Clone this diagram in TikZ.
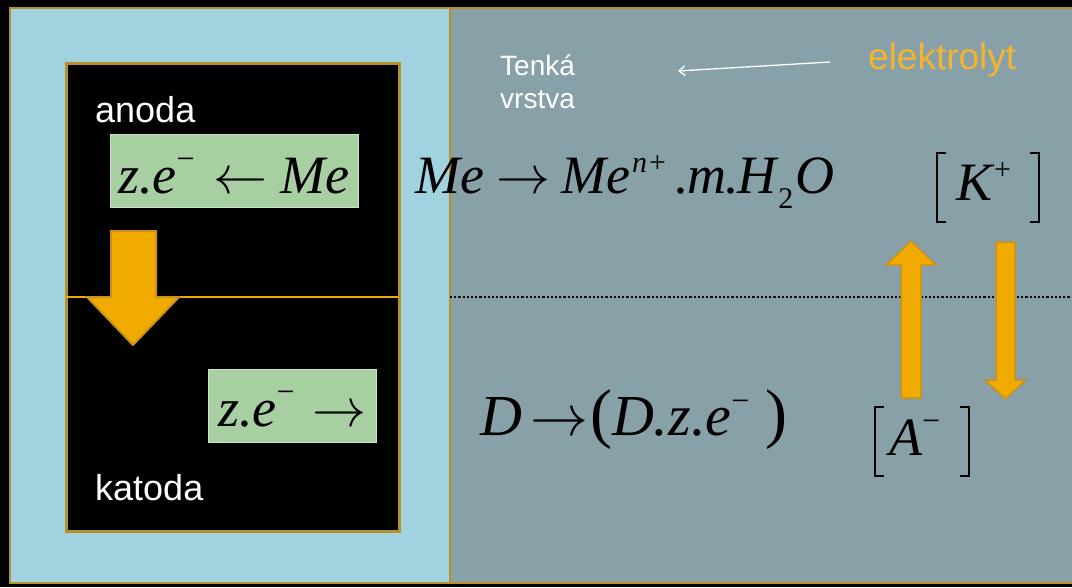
\documentclass[tikz,border=0pt]{standalone}
\usepackage{mathptmx}
\usepackage[no-math]{fontspec}
\setsansfont{Liberation Sans}
\newfontfamily\tim{Liberation Serif}
\usetikzlibrary{arrows.meta}
\definecolor{lblue}{HTML}{A0D2DF}
\definecolor{gpanel}{HTML}{88A0A7}
\definecolor{gbox}{HTML}{A7CFA1}
\definecolor{gold}{HTML}{F0AA00}
\definecolor{goldedge}{HTML}{C8921C}
\definecolor{frame}{HTML}{B8902A}
\definecolor{eltext}{HTML}{F2B530}
\newcommand{\supm}{\raisebox{24pt}{\fontsize{32}{32}\selectfont\upshape −}}
\newcommand{\supt}[1]{\raisebox{21pt}{\fontsize{30}{30}\selectfont #1}}
\newcommand{\subt}[1]{\raisebox{-15pt}{\fontsize{30}{30}\selectfont\upshape #1}}
\newcommand{\bigparen}[1]{{\fontsize{66}{66}\selectfont\upshape #1}}
\tikzset{
  panel/.style={draw=frame, line width=2.5pt},
  eqbox/.style={fill=gbox, draw=gbox!60!white, line width=1pt},
  bigarrow/.style={fill=gold, draw=goldedge, line width=2pt, line join=miter},
  label/.style={text=white, font=\sffamily\fontsize{36}{40}\selectfont, anchor=base west, inner sep=0pt},
  eq/.style={font=\tim\itshape\fontsize{54}{60}\selectfont, inner sep=0pt, anchor=base west},
  brack/.style={draw=black, line width=2.4pt, line cap=butt},
}
\begin{document}
\begin{tikzpicture}[x=1pt,y=-1pt]
\useasboundingbox (0,0) rectangle (1072,587);
\fill[black] (0,0) rectangle (1072,587);
% panels
\fill[lblue] (10,8) rectangle (450,583);
\fill[gpanel] (450,8) rectangle (1072,583);
\draw[panel] (10,8) rectangle (450,583);
\draw[panel] (450,8) -- (1074,8);
\draw[panel] (450,583) -- (1074,583);
% electrode box
\node[fill=black, draw=frame, line width=3pt, minimum width=333pt, minimum height=468pt, inner sep=0pt, anchor=north west] (electrode) at (65,62) {};
\draw[draw=gold, line width=2.5pt] (65,297) coordinate (sepL) -- (398,297) coordinate (sepR);
\draw[dotted, line width=2.2pt, black] (450,297) coordinate (dotL) -- (1072,297) coordinate (dotR);
% labels
\node[label] (anoda) at (95,122) {anoda};
\node[label] (katoda) at (95,500) {katoda};
% green boxes
\node[eqbox, minimum width=248pt, minimum height=73pt, anchor=north west, inner sep=0pt] (box1) at (110,134) {};
\node[eq] (eq1) at (118,193) {z.e\supm\hspace{19pt}$\leftarrow$\hspace{13pt}Me};
\node[eqbox, minimum width=168pt, minimum height=73pt, anchor=north west, inner sep=0pt] (box2) at (208,369) {};
\node[eq] (eq2) at (218,426) {z.e\supm\hspace{18pt}$\rightarrow$};
% big down arrow
\draw[bigarrow] (111,231) -- (156,231) -- (156,297) -- (179,297) -- (133,345) -- (87,297) -- (111,297) -- cycle;
% equations
\node[eq] (eq3) at (415,193) {Me\hspace{12pt}$\rightarrow$\hspace{11pt}Me\kern2pt\supt{n+}\hspace{8pt}.\kern-1pt m\kern-1pt.\kern-2pt H\kern2pt\subt{2}\kern2pt O};
\node[eq, font=\tim\itshape\fontsize{58}{60}\selectfont] (eq4) at (480,435) {D\hspace{8pt}$\rightarrow$\hspace{2pt}\bigparen{(}D.z.e\supm\hspace{16pt}\bigparen{)}};
% brackets with ions
\node[eq] (K) at (956,200) {K\kern2pt\supt{\upshape +}};
\draw[brack] (946,153) -- (937,153) -- (937,222) -- (946,222);
\draw[brack] (1030,153) -- (1039,153) -- (1039,222) -- (1030,222);
\node[eq] (A) at (889,455) {A\supm};
\draw[brack] (884,407) -- (875,407) -- (875,476) -- (884,476);
\draw[brack] (960,407) -- (969,407) -- (969,476) -- (960,476);
% small arrows
\draw[bigarrow, line width=1.5pt] (901,398) -- (901,265) -- (886,265) -- (911,241) -- (936,265) -- (921,265) -- (921,398) -- cycle;
\draw[bigarrow, line width=1.5pt] (996,242) -- (1015,242) -- (1015,380) -- (1026,380) -- (1005.5,399) -- (985,380) -- (996,380) -- cycle;
% thin layer text
\node[text=white, font=\sffamily\fontsize{28}{33}\selectfont, align=left, anchor=north west, inner sep=0pt] (tenka) at (500,55) {Tenká\\vrstva};
\node[text=eltext, font=\sffamily\fontsize{37}{40}\selectfont, anchor=base west, inner sep=0pt] (elektro) at (868,69) {elektrolyt};
\coordinate (arS) at (830,62);
\coordinate (arE) at (678,71);
\draw[white, line width=1.3pt, -{Straight Barb[length=6pt,width=10pt]}] (arS) -- (arE);
\end{tikzpicture}
\end{document}
